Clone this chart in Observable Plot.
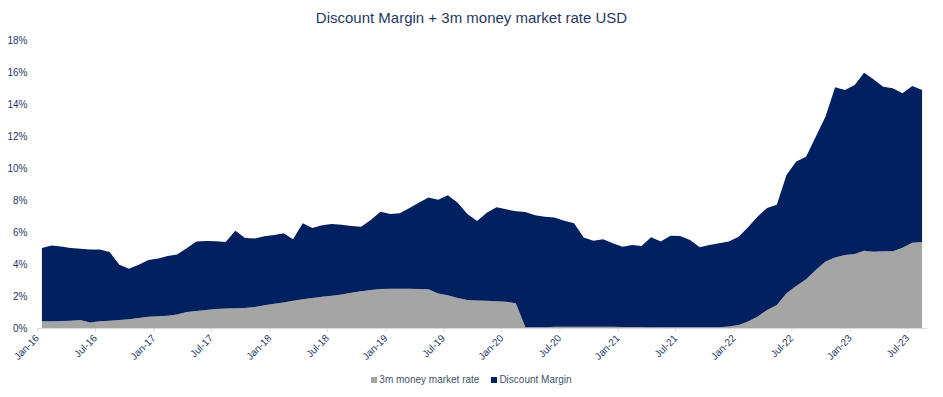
<!DOCTYPE html>
<html>
<head>
<meta charset="utf-8">
<script src="https://cdn.jsdelivr.net/npm/d3@7"></script>
<script src="https://cdn.jsdelivr.net/npm/@observablehq/plot@0.6"></script>
<style>
  html, body { margin: 0; padding: 0; background: #fff; }
  body { width: 943px; height: 397px; overflow: hidden; font-family: "Liberation Sans", Arial, sans-serif; }
  #title { height: 24px; padding-top: 6px; line-height: 24px; text-align: center; font-size: 15px; color: #1F3864; }
  #legend { height: 20px; line-height: 20px; text-align: center; font-size: 10px; color: #44546A; }
  #legend span.sw { display: inline-block; width: 6px; height: 6px; margin-right: 2px; vertical-align: 0px; }
  #legend span.item { margin: 0 6px; }
</style>
</head>
<body>
<div id="title">Discount Margin + 3m money market rate USD</div>
<div id="chart"></div>
<div id="legend"></div>
<script>
// Monthly categories: Jan-16 .. Aug-23
const firstMonth = "2016-01";
const lastMonth = "2023-08";
const seriesNames = ["3m money market rate", "Discount Margin"];
const seriesColors = ["#A5A5A5", "#002060"];
const yTicks = [0, 2, 4, 6, 8, 10, 12, 14, 16, 18];

// 3m money market rate USD (%)
const moneyMarketRate = [
  0.42, 0.42, 0.43, 0.45, 0.50, 0.35, 0.42, 0.46, 0.50, 0.55, 0.62, 0.70,
  0.74, 0.77, 0.85, 1.00, 1.07, 1.13, 1.19, 1.22, 1.23, 1.25, 1.32, 1.42,
  1.52, 1.60, 1.70, 1.80, 1.88, 1.95, 2.02, 2.10, 2.20, 2.30, 2.38, 2.44,
  2.46, 2.46, 2.45, 2.43, 2.42, 2.15, 2.05, 1.88, 1.75, 1.72, 1.70, 1.67,
  1.64, 1.55, 0.05, 0.05, 0.05, 0.08, 0.08, 0.08, 0.08, 0.08, 0.08, 0.08,
  0.06, 0.06, 0.06, 0.05, 0.05, 0.05, 0.05, 0.05, 0.05, 0.05, 0.05, 0.10,
  0.19, 0.40, 0.71, 1.13, 1.44, 2.17, 2.63, 3.04, 3.63, 4.15, 4.40, 4.56,
  4.63, 4.83, 4.77, 4.79, 4.79, 5.02, 5.33, 5.38
];

// Discount Margin + 3m money market rate (%), i.e. top of the stack
const dmPlusRate = [
  5.00, 5.15, 5.10, 5.00, 4.95, 4.90, 4.90, 4.75, 3.95, 3.70, 3.95, 4.25,
  4.35, 4.50, 4.60, 4.98, 5.40, 5.44, 5.42, 5.38, 6.08, 5.62, 5.60, 5.73,
  5.81, 5.92, 5.54, 6.54, 6.25, 6.42, 6.50, 6.46, 6.38, 6.33, 6.75, 7.27,
  7.13, 7.17, 7.48, 7.83, 8.15, 8.02, 8.29, 7.83, 7.13, 6.69, 7.21, 7.54,
  7.42, 7.29, 7.25, 7.04, 6.96, 6.90, 6.71, 6.54, 5.65, 5.46, 5.54, 5.29,
  5.08, 5.19, 5.13, 5.67, 5.40, 5.77, 5.75, 5.50, 5.04, 5.19, 5.29, 5.40,
  5.71, 6.29, 6.96, 7.50, 7.70, 9.56, 10.40, 10.70, 11.96, 13.20, 15.04, 14.88,
  15.19, 15.96, 15.54, 15.08, 14.98, 14.67, 15.13, 14.88
];

const parseMonth = d3.utcParse("%Y-%m");
const start = parseMonth(firstMonth);
const months = d3.utcMonth.range(start, d3.utcMonth.offset(parseMonth(lastMonth), 1));
const data = months.map((m, i) => ({
  date: new Date((m.getTime() + d3.utcMonth.offset(m, 1).getTime()) / 2),
  rate: moneyMarketRate[i],
  total: dmPlusRate[i]
}));
const end = d3.utcMonth.offset(parseMonth(lastMonth), 1);
const xTicks = d3.utcMonth.every(6).range(start, d3.utcMonth.offset(end, 1));

const chart = Plot.plot({
  width: 943,
  height: 340,
  marginLeft: 37,
  marginRight: 16,
  marginTop: 10,
  marginBottom: 42,
  style: { fontFamily: "'Liberation Sans', Arial, sans-serif", fontSize: "10px", background: "#fff" },
  x: { type: "utc", domain: [start, end] },
  y: { domain: [0, 18] },
  marks: [
    Plot.areaY(data, { x: "date", y1: 0, y2: "rate", fill: seriesColors[0] }),
    Plot.areaY(data, { x: "date", y1: "rate", y2: "total", fill: seriesColors[1] }),
    Plot.ruleY([0], { stroke: "#D9D9D9" }),
    Plot.axisY({ ticks: yTicks, tickSize: 0, tickPadding: 10, tickFormat: d => d + "%", fill: "#1F3864", fontSize: 10 }),
    Plot.axisX({ ticks: xTicks, tickSize: 4, stroke: "#D9D9D9", fill: "#1F3864", tickRotate: -45, tickPadding: 4,
                 tickFormat: d3.utcFormat("%b-%y"), fontSize: 10, label: null })
  ]
});
document.getElementById("chart").appendChild(chart);

const legend = document.getElementById("legend");
legend.innerHTML = seriesNames.map((n, i) =>
  `<span class="item"><span class="sw" style="background:${seriesColors[i]}"></span>${n}</span>`).join("");
</script>
</body>
</html>
